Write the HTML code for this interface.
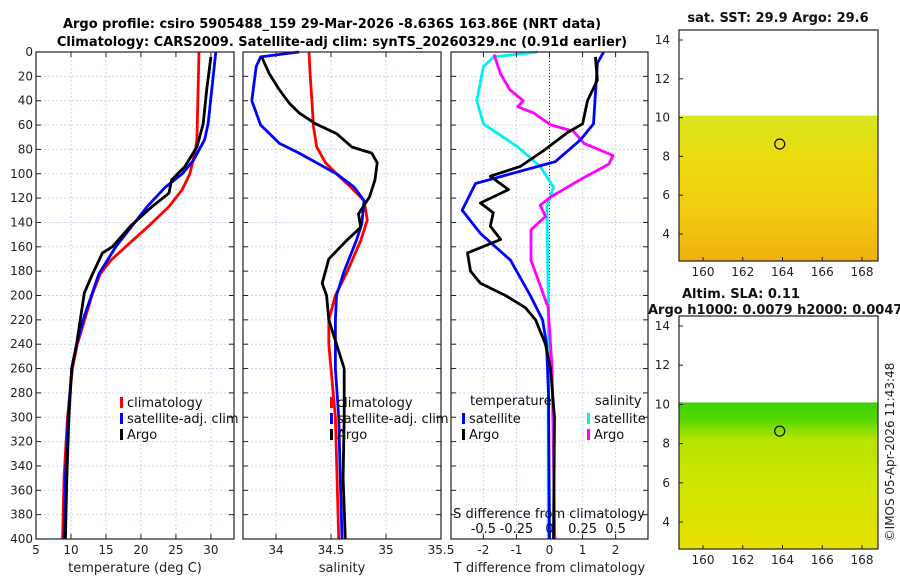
<!DOCTYPE html>
<html><head><meta charset="utf-8">
<style>
html,body{margin:0;padding:0;background:#fff;}
svg{display:block;font-family:"DejaVu Sans","Liberation Sans",sans-serif;}
</style></head>
<body>
<svg id="fig" width="900" height="580" viewBox="0 0 900 580" xmlns="http://www.w3.org/2000/svg">
<defs>
<linearGradient id="sstg" x1="0" y1="0" x2="0" y2="1">
<stop offset="0" stop-color="#d8e620"/><stop offset="0.3" stop-color="#ecdc10"/><stop offset="0.65" stop-color="#f2cc10"/><stop offset="1" stop-color="#f0b010"/>
</linearGradient>
<linearGradient id="slag" x1="0" y1="0" x2="0" y2="1">
<stop offset="0" stop-color="#3cd200"/><stop offset="0.12" stop-color="#58d800"/><stop offset="0.25" stop-color="#b4e400"/><stop offset="0.6" stop-color="#d2e600"/><stop offset="1" stop-color="#e8e000"/>
</linearGradient>
</defs>
<text x="332" y="28" text-anchor="middle" font-size="13" font-weight="bold" fill="#000">Argo profile: csiro 5905488_159 29-Mar-2026 -8.636S 163.86E (NRT data)</text>
<text x="342" y="46" text-anchor="middle" font-size="13" font-weight="bold" fill="#000">Climatology: CARS2009. Satellite-adj clim: synTS_20260329.nc (0.91d earlier)</text>
<g id="plots"></g>
<text transform="translate(894,452) rotate(-90)" text-anchor="middle" font-size="12" fill="#222">©IMOS 05-Apr-2026 11:43:48</text>
</svg>
<script>
// ---------- data ----------
const depthTicks=[0,20,40,60,80,100,120,140,160,180,200,220,240,260,280,300,320,340,360,380,400];
// temperature panel
const tClimDepth=[0,72,80,100,113,127,143,160,171,182,198,217,240,260,300,350,400];
const tClim=[28.3,28.0,27.8,27.0,25.9,24.0,21.1,17.8,15.7,14.2,13.1,12.1,10.9,10.2,9.5,9.0,8.8];
const tSatDepth=[0,59,72,89,100,111,127,143,160,182,217,240,260,300,350,400];
const tSat=[30.7,29.6,29.1,27.5,25.9,23.5,20.9,18.7,16.4,14.0,11.9,10.8,10.1,9.6,9.2,9.0];
const tArgoDepth=[4,31,59,78,94,105,116,127,143,160,165,182,198,217,240,260,300,350,400];
const tArgo=[30.0,29.4,28.9,28.0,26.3,24.4,24.0,21.6,18.5,15.9,14.5,13.1,11.9,11.4,10.8,10.1,9.7,9.4,9.2];
// salinity panel
const sClimDepth=[0,18,45,61,78,91,100,111,122,138,155,180,200,220,240,260,300,400];
const sClim=[34.30,34.31,34.33,34.34,34.37,34.45,34.55,34.68,34.80,34.83,34.77,34.65,34.54,34.48,34.48,34.50,34.54,34.57];
const sSatDepth=[0,4,12,40,60,75,83,100,111,122,141,155,180,200,220,260,300,400];
const sSat=[34.21,33.86,33.82,33.78,33.86,34.03,34.21,34.55,34.71,34.80,34.78,34.73,34.62,34.55,34.54,34.54,34.57,34.60];
const sArgoDepth=[4,18,31,42,50,59,67,78,83,91,105,119,133,144,155,170,190,200,220,240,260,300,350,400];
const sArgo=[33.87,33.94,34.03,34.12,34.21,34.36,34.55,34.69,34.87,34.92,34.90,34.85,34.75,34.77,34.64,34.48,34.42,34.46,34.48,34.55,34.62,34.62,34.61,34.63];
// difference panel
const dTSatDepth=[0,9,59,72,90,108,130,149,171,200,220,240,280,400];
const dTSat=[1.64,1.45,1.33,0.94,0.18,-2.24,-2.64,-2.09,-1.18,-0.58,-0.21,-0.09,-0.03,0.0];
const dTArgoDepth=[4,23,40,59,66,81,94,102,113,124,132,143,154,165,180,190,200,210,220,240,260,300,400];
const dTArgo=[1.39,1.45,1.15,1.0,0.55,-0.18,-0.88,-1.79,-1.24,-2.09,-1.7,-1.79,-1.48,-2.48,-2.39,-2.09,-1.33,-0.73,-0.42,-0.12,0.03,0.15,0.12];
const dSSatDepth=[0,4,12,40,59,78,94,111,127,200,400];
const dSSat=[-0.09,-0.42,-0.5,-0.55,-0.5,-0.24,-0.07,0.03,-0.02,-0.01,-0.01];
const dSArgoDepth=[2,18,31,40,45,50,60,65,75,85,92,105,119,126,135,146,171,210,260,400];
const dSArgo=[-0.42,-0.37,-0.30,-0.20,-0.24,-0.12,0.01,0.18,0.26,0.48,0.45,0.23,0.01,-0.07,-0.03,-0.14,-0.14,-0.01,0.02,0.04];
// maps
const mapLatTicks=[4,6,8,10,12,14];
const mapLonTicks=[160,162,164,166,168];
const argoLon=163.86, argoLat=-8.636;
const sstTitle="sat. SST: 29.9 Argo: 29.6";

// ---------- helpers ----------
const NS="http://www.w3.org/2000/svg";
const root=document.getElementById('plots');
function mk(tag,attrs,parent){const e=document.createElementNS(NS,tag);for(const k in attrs)e.setAttribute(k,attrs[k]);(parent||root).appendChild(e);return e;}
const Y0=52,Y1=539;
const yD=d=>Y0+(d/400)*(Y1-Y0);

function panel(name,x0,x1,vmin,vmax,xticks){
  const g=mk('g',{});
  
  
  const sx=v=>x0+(v-vmin)/(vmax-vmin)*(x1-x0);
  xticks.forEach(v=>{const l=mk('line',{x1:sx(v),x2:sx(v),y1:Y0,y2:Y1,stroke:'#cdd3ee','stroke-width':1,'stroke-dasharray':'2,2'},g);
    });
  depthTicks.forEach(d=>{const l=mk('line',{x1:x0,x2:x1,y1:yD(d),y2:yD(d),stroke:'#cdd3ee','stroke-width':1,'stroke-dasharray':'2,2'},g);
    });
  return {g,sx};
}
function frame(g,x0,x1,xticks,sx,xlabels,showDepth,xtitle){
  const r=mk('rect',{x:x0,y:Y0,width:x1-x0,height:Y1-Y0,fill:'none',stroke:'#222','stroke-width':1.2},g);
  
  depthTicks.forEach(d=>{
    mk('line',{x1:x0,x2:x0+5,y1:yD(d),y2:yD(d),stroke:'#222'},g);
    mk('line',{x1:x1-5,x2:x1,y1:yD(d),y2:yD(d),stroke:'#222'},g);
    if(showDepth){const t=mk('text',{x:x0-3,y:yD(d)+4,'text-anchor':'end','font-size':12,fill:'#222'},g);t.textContent=d;
      }
  });
  xticks.forEach((v,i)=>{
    mk('line',{x1:sx(v),x2:sx(v),y1:Y1,y2:Y1-5,stroke:'#222'},g);
    mk('line',{x1:sx(v),x2:sx(v),y1:Y0,y2:Y0+5,stroke:'#222'},g);
    if(xlabels){const t=mk('text',{x:sx(v),y:Y1+15,'text-anchor':'middle','font-size':12,fill:'#222'},g);t.textContent=xlabels[i];
      }
  });
  if(xtitle){const t=mk('text',{x:(x0+x1)/2,y:Y1+33,'text-anchor':'middle','font-size':13,fill:'#222'},g);t.textContent=xtitle;
    }
}
function line(g,depths,vals,sx,color,name){
  const p=mk('polyline',{points:depths.map((d,i)=>sx(vals[i]).toFixed(1)+','+yD(d).toFixed(1)).join(' '),fill:'none',stroke:color,'stroke-width':2.8,'stroke-linejoin':'round'},g);
  
  
}
function legendEntry(g,x,y,color,label,name){
  const e=mk('g',{},g);
  
  
  mk('rect',{x:x,y:y-9,width:3,height:11,fill:color},e);
  const t=mk('text',{x:x+7,y:y+1,'font-size':13,fill:'#111'},e);t.textContent=label;
}

// ---------- panel 1: temperature ----------
{
  const tt=[5,10,15,20,25,30];
  const p=panel('temperature-panel',36,234,5,33.3,tt);
  line(p.g,tClimDepth,tClim,p.sx,'#ff0000','climatology-temperature-line');
  line(p.g,tSatDepth,tSat,p.sx,'#0000ff','satellite-temperature-line');
  line(p.g,tArgoDepth,tArgo,p.sx,'#000000','argo-temperature-line');
  frame(p.g,36,234,tt,p.sx,tt.map(String),true,'temperature (deg C)');
  legendEntry(p.g,120,406,'#ff0000','climatology','legend-climatology');
  legendEntry(p.g,120,422,'#0000ff','satellite-adj. clim','legend-satellite');
  legendEntry(p.g,120,438,'#000000','Argo','legend-argo');
}
// ---------- panel 2: salinity ----------
{
  const st=[34,34.5,35,35.5];
  const p=panel('salinity-panel',243,441,33.7,35.5,st);
  line(p.g,sClimDepth,sClim,p.sx,'#ff0000','climatology-salinity-line');
  line(p.g,sSatDepth,sSat,p.sx,'#0000ff','satellite-salinity-line');
  line(p.g,sArgoDepth,sArgo,p.sx,'#000000','argo-salinity-line');
  frame(p.g,243,441,st,p.sx,['34','34.5','35','35.5'],false,'salinity');
  legendEntry(p.g,330,406,'#ff0000','climatology','legend-climatology-sal');
  legendEntry(p.g,330,422,'#0000ff','satellite-adj. clim','legend-satellite-sal');
  legendEntry(p.g,330,438,'#000000','Argo','legend-argo-sal');
}
// ---------- panel 3: differences ----------
{
  const dt=[-2,-1,0,1,2];
  const p=panel('difference-panel',451,648,-2.98,2.98,dt);
  const sxS=v=>p.sx(v*4);
  const z=mk('line',{x1:p.sx(0),x2:p.sx(0),y1:Y0,y2:Y1,stroke:'#333','stroke-width':1,'stroke-dasharray':'1,2'},p.g);
  
  line(p.g,dSSatDepth,dSSat,sxS,'#00f0f0','satellite-salinity-diff-line');
  line(p.g,dSArgoDepth,dSArgo,sxS,'#ff00ff','argo-salinity-diff-line');
  line(p.g,dTSatDepth,dTSat,p.sx,'#0000ff','satellite-temperature-diff-line');
  line(p.g,dTArgoDepth,dTArgo,p.sx,'#000000','argo-temperature-diff-line');
  frame(p.g,451,648,dt,p.sx,dt.map(String),false,'T difference from climatology');
  const lt=mk('text',{x:470,y:405,'font-size':13,fill:'#111'},p.g);lt.textContent='temperature';
  
  const ls=mk('text',{x:595,y:405,'font-size':13,fill:'#111'},p.g);ls.textContent='salinity';
  
  legendEntry(p.g,462,422,'#0000ff','satellite','legend-t-satellite');
  legendEntry(p.g,462,438,'#000000','Argo','legend-t-argo');
  legendEntry(p.g,587,422,'#00f0f0','satellite','legend-s-satellite');
  legendEntry(p.g,587,438,'#ff00ff','Argo','legend-s-argo');
  const st=mk('text',{x:549,y:518,'text-anchor':'middle','font-size':13,fill:'#111'},p.g);st.textContent='S difference from climatology';
  
  const sTicks=[-0.5,-0.25,0,0.25,0.5];
  sTicks.forEach(v=>{const t=mk('text',{x:sxS(v),y:533,'text-anchor':'middle','font-size':13,fill:'#111'},p.g);t.textContent=String(v);
    });
}
// ---------- maps ----------
function map(name,yTop,yBot,latTopPx14,latPx4,fill,title,dataTopLat){
  const g=mk('g',{});
  
  
  const x0=679,x1=878;
  const sx=lon=>703+(lon-160)*(862-703)/8;
  const sy=lat=>latPx4+(lat-4)*(latTopPx14-latPx4)/10;
  mk('rect',{x:x0,y:sy(dataTopLat),width:x1-x0,height:yBot-sy(dataTopLat),fill:fill},g);
  mk('rect',{x:x0,y:yTop,width:x1-x0,height:yBot-yTop,fill:'none',stroke:'#222','stroke-width':1.2},g);
  mapLatTicks.forEach(v=>{mk('line',{x1:x0,x2:x0+4,y1:sy(v),y2:sy(v),stroke:'#222'},g);
    const t=mk('text',{x:x0-9,y:sy(v)+4,'text-anchor':'end','font-size':12,fill:'#222'},g);t.textContent=v;
    });
  mapLonTicks.forEach(v=>{mk('line',{x1:sx(v),x2:sx(v),y1:yBot,y2:yBot-4,stroke:'#222'},g);
    const t=mk('text',{x:sx(v),y:yBot+15,'text-anchor':'middle','font-size':12,fill:'#222'},g);t.textContent=v;
    });
  const c=mk('circle',{cx:sx(argoLon),cy:sy(-argoLat),r:5,fill:'none',stroke:'#111','stroke-width':1.3},g);
  
  title.forEach(tl=>{const t=mk('text',{x:tl.x,y:tl.y,'text-anchor':tl.a,'font-size':13,'font-weight':'bold',fill:'#111'},g);t.textContent=tl.s;
    });
}
map('sst-map',30,261,40,234,'url(#sstg)',[{x:778,y:22,a:'middle',s:sstTitle}],10.1);
map('sla-map',316,549,326,522,'url(#slag)',[{x:682,y:298,a:'start',s:'Altim. SLA: 0.11'},{x:648,y:314,a:'start',s:'Argo h1000: 0.0079 h2000: 0.0047'}],10.1);
</script>
</body></html>
